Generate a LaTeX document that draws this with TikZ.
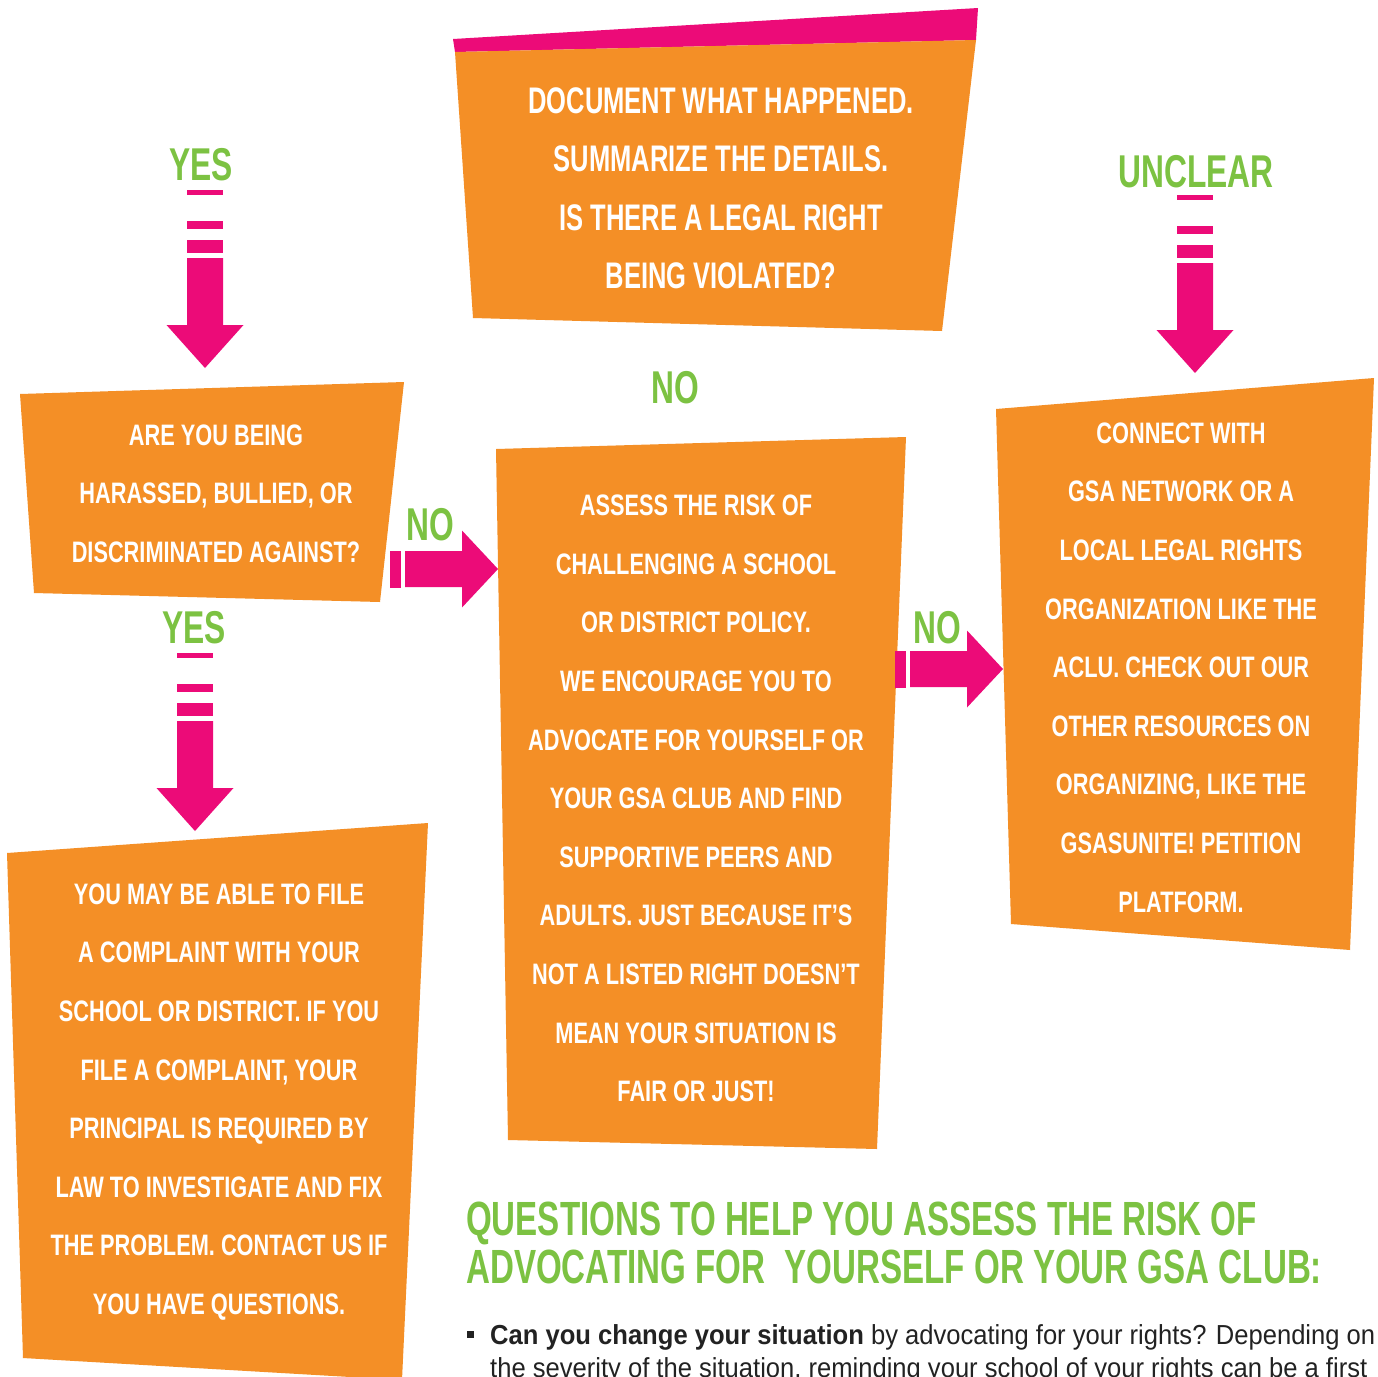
\documentclass[tikz,border=0pt]{standalone}
\usepackage{fontspec}
\newfontfamily\condfont[FakeStretch=0.69]{Liberation Sans}
\newfontfamily\boxfont[FakeStretch=0.735]{Liberation Sans}
\newfontfamily\bodyfont[FakeStretch=0.93]{Liberation Sans}
\definecolor{orng}{RGB}{244,143,38}
\definecolor{pnk}{RGB}{236,11,120}
\definecolor{grn}{RGB}{124,194,66}
\definecolor{bodytxt}{RGB}{34,34,34}
\tikzset{
  boxfill/.style={fill=orng},
  boxtxt/.style={text=white, align=center, inner sep=0pt,
    font=\boxfont\bfseries\fontsize{29.6}{58.6}\selectfont},
  bigtxt/.style={text=white, align=center, inner sep=0pt,
    font=\condfont\bfseries\fontsize{37}{58.5}\selectfont},
  lbl/.style={text=grn, inner sep=0pt, font=\condfont\bfseries\fontsize{46}{50}\selectfont},
  headtxt/.style={text=grn, inner sep=0pt, anchor=base west,
    font=\condfont\bfseries\fontsize{48}{48}\selectfont},
  bodyline/.style={text=bodytxt, inner sep=0pt, anchor=base west,
    font=\bodyfont\fontsize{27.5}{33}\selectfont},
  downarrow/.pic={
    \fill[pnk] (-18,0) rectangle (18,5);
    \fill[pnk] (-18,31) rectangle (18,39);
    \fill[pnk] (-18,50) rectangle (18,63);
    \fill[pnk] (-18,68) -- (18,68) -- (18,135) -- (38.5,135) -- (0,178)
      -- (-38.5,135) -- (-18,135) -- cycle;
  },
  rightarrow/.pic={
    \fill[pnk] (0,-18.5) rectangle (11,18.5);
    \fill[pnk] (15,-18) -- (72,-18) -- (72,-38.5) -- (108,0) -- (72,38.5)
      -- (72,18) -- (15,18) -- cycle;
  }
}
\begin{document}
\begin{tikzpicture}[x=1pt,y=-1pt]
\clip (0,0) rectangle (1378,1376);
\fill[white] (0,0) rectangle (1378,1376);

% top box
\fill[pnk] (453,39) -- (978,8) -- (976,40) -- (455,52) -- cycle;
\fill[boxfill] (455,52) -- (976,40) -- (942,331) -- (473,318) -- cycle;
\node[bigtxt] (doc) at (721,188.5) {DOCUMENT WHAT HAPPENED.\\SUMMARIZE THE DETAILS.\\IS THERE A LEGAL RIGHT\\BEING VIOLATED?};

% left question box
\fill[boxfill] (20,394) -- (404,382) -- (380,602) -- (34,593) -- cycle;
\node[boxtxt] (q) at (216,493.5) {ARE YOU BEING\\HARASSED, BULLIED, OR\\DISCRIMINATED AGAINST?};

% centre box
\fill[boxfill] (496,449) -- (906,437) -- (877,1149) -- (508,1140) -- cycle;
\node[boxtxt] (risk) at (696,798.5) {ASSESS THE RISK OF\\CHALLENGING A SCHOOL\\OR DISTRICT POLICY.\\WE ENCOURAGE YOU TO\\ADVOCATE FOR YOURSELF OR\\YOUR GSA CLUB AND FIND\\SUPPORTIVE PEERS AND\\ADULTS. JUST BECAUSE IT’S\\NOT A LISTED RIGHT DOESN’T\\MEAN YOUR SITUATION IS\\FAIR OR JUST!};

% right box
\fill[boxfill] (996,409) -- (1374,378) -- (1350,950) -- (1011,924) -- cycle;
\node[boxtxt] (connect) at (1181,667.5) {CONNECT WITH\\GSA NETWORK OR A\\LOCAL LEGAL RIGHTS\\ORGANIZATION LIKE THE\\ACLU. CHECK OUT OUR\\OTHER RESOURCES ON\\ORGANIZING, LIKE THE\\GSASUNITE! PETITION\\PLATFORM.};

% bottom-left box
\fill[boxfill] (7,853) -- (428,823) -- (402,1380) -- (23,1358) -- cycle;
\node[boxtxt] (complaint) at (219,1102) {YOU MAY BE ABLE TO FILE\\A COMPLAINT WITH YOUR\\SCHOOL OR DISTRICT. IF YOU\\FILE A COMPLAINT, YOUR\\PRINCIPAL IS REQUIRED BY\\LAW TO INVESTIGATE AND FIX\\THE PROBLEM. CONTACT US IF\\YOU HAVE QUESTIONS.};

% labels
\node[lbl] (yes1) at (201,165) {YES};
\node[lbl] (unclear) at (1196,172) {UNCLEAR};
\node[lbl] (no0) at (675,388) {NO};
\node[lbl] (no1) at (430,525) {NO};
\node[lbl] (yes2) at (194,628) {YES};
\node[lbl] (no2) at (937,628) {NO};

% arrows
\coordinate (a1) at (205,190);
\coordinate (a2) at (1195,195);
\coordinate (a3) at (195,653);
\coordinate (a4) at (390,569);
\coordinate (a5) at (895,669);
\pic at (a1) {downarrow};
\pic at (a2) {downarrow};
\pic at (a3) {downarrow};
\pic at (a4) {rightarrow};
\pic at (a5) {rightarrow};

% heading
\node[headtxt] (h1) at (466,1235) {QUESTIONS TO HELP YOU ASSESS THE RISK OF};
\node[headtxt] (h2) at (466,1283) {ADVOCATING FOR\hspace{0.4em}YOURSELF OR YOUR GSA CLUB:};

% bullet
\fill[bodytxt] (467,1331) rectangle (474,1338);
\node[bodyline] (b1) at (490,1344) {\textbf{Can you change your situation} by advocating for your rights? Depending on};
\node[bodyline] (b2) at (490,1377) {the severity of the situation, reminding your school of your rights can be a first};
\end{tikzpicture}
\end{document}
